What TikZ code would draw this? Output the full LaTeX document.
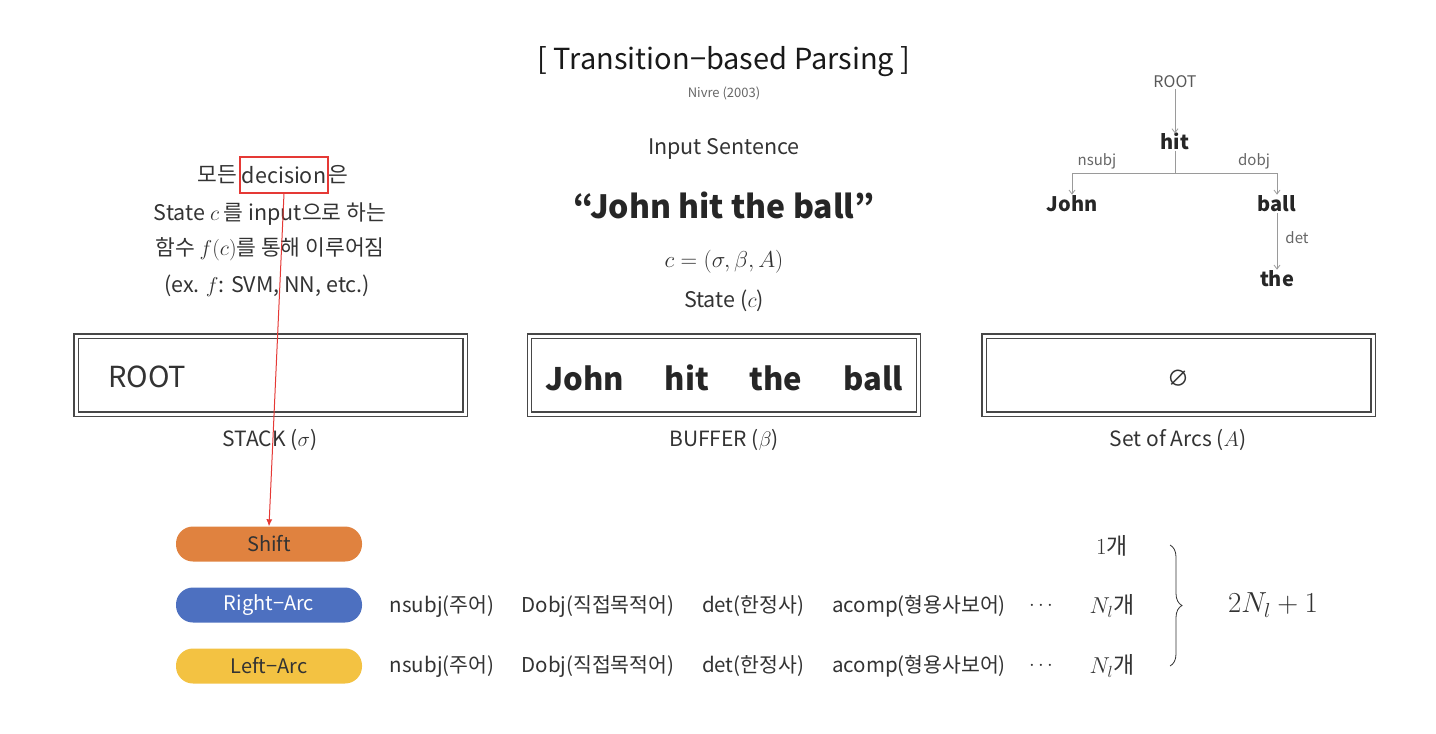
\RequirePackage{fix-cm}
\documentclass[tikz,border=0pt]{standalone}
\usepackage{fontspec}
\setmainfont{Noto Sans CJK KR}
\usetikzlibrary{decorations.pathreplacing,arrows.meta}
\definecolor{txt}{HTML}{333333}
\definecolor{treeln}{HTML}{9A9A9A}
\definecolor{shiftc}{HTML}{E0823F}
\definecolor{rightc}{HTML}{4D70C0}
\definecolor{leftc}{HTML}{F3C242}
\definecolor{redc}{HTML}{E53935}
\tikzset{
  fs/.style={font=\fontsize{#1}{#1}\selectfont},
  plain/.style={text=txt, inner sep=1pt},
  dbox/.style={draw=txt!90, double=white, double distance=3pt, line width=1.1pt, minimum width=389, minimum height=78, inner sep=0pt},
  pill/.style={rounded corners=17pt, minimum width=186, minimum height=35, inner sep=0pt, fs=20},
  treearr/.style={draw=treeln, line width=0.8pt, -{Straight Barb[length=4pt,width=6pt]}},
  treeword/.style={text=black!85, inner sep=1pt, font=\bfseries\fontsize{20}{20}\selectfont},
  bufword/.style={text=black!85, inner sep=1pt, font=\bfseries\fontsize{31}{31}\selectfont},
  rowtext/.style={text=txt, inner sep=1pt, fs=20.5},
}
\begin{document}
\begin{tikzpicture}[x=1pt,y=-1pt]
\useasboundingbox (0,0) rectangle (1436,734);
% title
\node[plain, fs=29, text=black!90] (title) at (724,62) {[ Transition−based Parsing ]};
\node[plain, fs=13, text=black!60] (nivre) at (724,93) {Nivre (2003)};
% left explanation
\node[draw=redc, line width=1.2pt, minimum width=88, minimum height=36, inner sep=0pt, text=txt, fs=21.5] (dec) at (284,175) {decision};
\node[plain, fs=21.5, anchor=east] (mo) at ([xshift=-1pt]dec.west) {모든};
\node[plain, fs=21.5, anchor=west] (eun) at ([xshift=-1pt]dec.east) {은};
\node[plain, fs=21.5] (l2) at (270,214) {State $c$ 를 input으로 하는};
\node[plain, fs=21.5] (l3) at (270,249) {함수 $f(c)$를 통해 이루어짐};
\node[plain, fs=21.5] (l4) at (267,286) {(ex. $f$: SVM, NN, etc.)};
% center
\node[plain, fs=21.5] (input) at (724,149) {Input Sentence};
\node[plain, text=black!85, font=\bfseries\fontsize{32}{32}\selectfont] (sent) at (724,205) {“John hit the ball”};
\node[plain, fs=23] (ceq) at (724,262) {$c=(\sigma,\beta,A)$};
\node[plain, fs=21.5] (state) at (724,301) {State ($c$)};
% tree
\node[plain, fs=16, text=black!65] (troot) at (1175,82) {ROOT};
\node[treeword] (thit) at (1175,141) {hit};
\node[treeword] (tjohn) at (1072,204) {John};
\node[treeword] (tball) at (1277,204) {ball};
\node[treeword] (tthe) at (1277,279) {the};
\draw[treearr] (troot.south) -- ([yshift=-2pt]thit.north);
\coordinate (tj) at (1175,173);
\draw[draw=treeln, line width=0.8pt] (thit.south) -- (tj);
\draw[treearr] (tj) -| (tjohn.north);
\draw[treearr] (tj) -| (tball.north);
\draw[treearr] (tball.south) -- (tthe.north);
\node[plain, fs=15, text=black!60] (lnsubj) at (1097,161) {nsubj};
\node[plain, fs=15, text=black!60] (ldobj) at (1254,161) {dobj};
\node[plain, fs=15, text=black!60] (ldet) at (1297,238) {det};
% boxes
\node[dbox] (stack) at (270.5,375) {};
\node[plain, fs=29, anchor=west] (sroot) at (107,377) {ROOT};
\node[dbox] (buffer) at (724,375) {};
\node[bufword] (bj) at (585,378) {John};
\node[bufword] (bh) at (687,378) {hit};
\node[bufword] (bt) at (776,378) {the};
\node[bufword] (bb) at (873,378) {ball};
\node[dbox] (arcs) at (1178.5,375) {};
\node[plain, fs=22] (empty) at (1178,378) {∅};
\node[plain, fs=21] (lstack) at (270,440) {STACK ($\sigma$)};
\node[plain, fs=21] (lbuffer) at (724,440) {BUFFER ($\beta$)};
\node[plain, fs=21] (larcs) at (1178,440) {Set of Arcs ($A$)};
% pills
\node[pill, fill=shiftc, text=txt] (shift) at (269,544) {Shift};
\node[pill, fill=rightc, text=white] (rarc) at (269,605) {Right−Arc};
\node[pill, fill=leftc, text=txt] (larc) at (269,666) {Left−Arc};
\draw[redc, line width=1pt, -{Latex[length=7pt,width=6pt]}] (dec.south) -- (shift.north);
% rows
\foreach \r/\y in {r/606, l/666}{
  \node[rowtext] (\r a) at (442,\y) {nsubj(주어)};
  \node[rowtext] (\r b) at (598,\y) {Dobj(직접목적어)};
  \node[rowtext] (\r c) at (753,\y) {det(한정사)};
  \node[rowtext] (\r d) at (919,\y) {acomp(형용사보어)};
  \node[rowtext] (\r e) at (1041,\y) {$\cdots$};
  \node[plain, fs=23] (\r n) at (1112,\y) {$N_l$개};
}
\node[plain, fs=23] (one) at (1112,546) {$1$개};
\coordinate (bt1) at (1170,545);
\coordinate (bt2) at (1170,666);
\draw[txt, line width=0.8pt, decorate, decoration={brace, amplitude=12pt}] (bt1) -- (bt2);
\node[plain, fs=29] (total) at (1273,605) {$2N_l+1$};
\end{tikzpicture}
\end{document}
